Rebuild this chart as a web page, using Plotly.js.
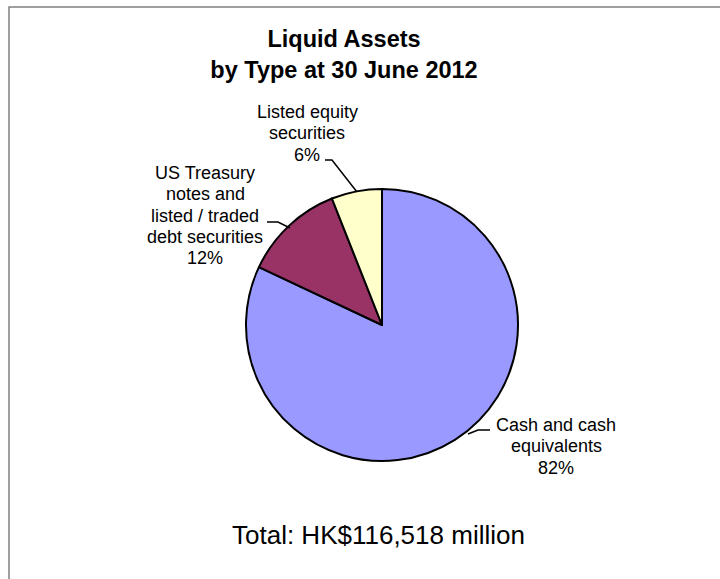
<!DOCTYPE html>
<html>
<head>
<meta charset="utf-8">
<script src="https://cdn.plot.ly/plotly-3.0.1.min.js"></script>
<style>html,body{margin:0;padding:0;background:#fff;}#chart{width:720px;height:579px;}</style>
</head>
<body>
<div id="chart"></div>
<script>
// Data
var categories = ["Cash and cash equivalents", "US Treasury notes and listed / traded debt securities", "Listed equity securities"];
var labelLines = [["Cash and cash", "equivalents"], ["US Treasury", "notes and", "listed / traded", "debt securities"], ["Listed equity", "securities"]];
var percents = [82, 12, 6];
var colors = ["#9999FF", "#993366", "#FFFFCC"];
var totalText = "Total: HK$116,518 million";
var titleLines = ["Liquid Assets", "by Type at 30 June 2012"];

var W = 720, H = 579;
function px(x){ return x / W; }
function py(y){ return 1 - y / H; }

// label placement: centre x and first line centre y (pixels), line step
var labelPos = [[556, 425], [205, 173], [307, 112]];
var lineStep = 21.3;

var trace = {
  type: "pie",
  values: percents,
  labels: categories,
  marker: {colors: colors, line: {color: "#000000", width: 2}},
  sort: false,
  direction: "clockwise",
  rotation: 0,
  textinfo: "none",
  hoverinfo: "label+percent",
  showlegend: false,
  domain: {x: [px(246), px(518)], y: [py(461), py(189)]}
};

var FONT = "Liberation Sans, Arial, sans-serif";
var annotations = [];
categories.forEach(function(c, i){
  var lines = labelLines[i].concat([percents[i] + "%"]);
  lines.forEach(function(t, j){
    annotations.push({
      xref: "paper", yref: "paper",
      x: px(labelPos[i][0]), y: py(labelPos[i][1] + j * lineStep),
      xanchor: "center", yanchor: "middle",
      text: t, showarrow: false,
      font: {family: FONT, size: 18, color: "#000"}
    });
  });
});
annotations.push({
  xref: "paper", yref: "paper",
  x: px(378), y: py(535),
  xanchor: "center", yanchor: "middle",
  text: totalText, showarrow: false,
  font: {family: FONT, size: 26, color: "#000"}
});

function pathPx(pts){
  return pts.map(function(p, i){ return (i ? "L" : "M") + px(p[0]) + "," + py(p[1]); }).join(" ");
}

var shapes = [
  // chart border
  {type: "rect", xref: "paper", yref: "paper", x0: px(9), x1: 1.05, y0: -0.05, y1: py(7),
   line: {color: "#808080", width: 1.5}, fillcolor: "rgba(0,0,0,0)"},
  // leader lines
  {type: "path", xref: "paper", yref: "paper", path: pathPx([[357, 192], [332, 160], [325, 160]]), line: {color: "#000", width: 1.5}},
  {type: "path", xref: "paper", yref: "paper", path: pathPx([[290, 228], [278, 222], [267, 222]]), line: {color: "#000", width: 1.5}},
  {type: "path", xref: "paper", yref: "paper", path: pathPx([[468, 434], [478, 430], [490, 430]]), line: {color: "#000", width: 1.5}}
];

var layout = {
  width: W, height: H,
  margin: {l: 0, r: 0, t: 0, b: 0},
  paper_bgcolor: "#ffffff",
  title: {
    text: titleLines.map(function(t){ return "<b>" + t + "</b>"; }).join("<br>"),
    xref: "paper", yref: "paper",
    x: px(344), y: py(47), xanchor: "center", yanchor: "middle",
    font: {family: FONT, size: 23.5, color: "#000"}
  },
  annotations: annotations,
  shapes: shapes,
  showlegend: false
};

Plotly.newPlot("chart", [trace], layout, {displayModeBar: false, staticPlot: true});
</script>
</body>
</html>
